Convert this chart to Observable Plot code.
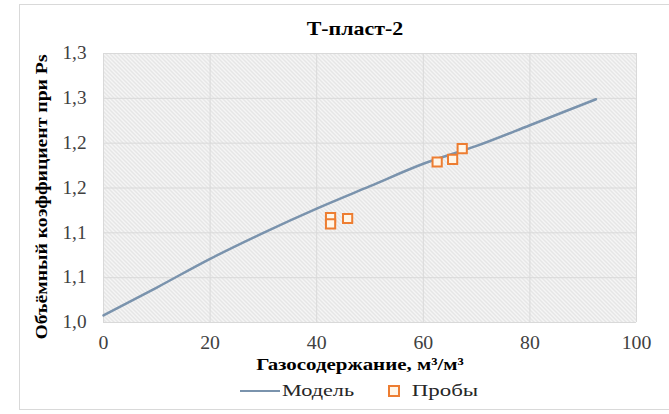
<!DOCTYPE html>
<html><head><meta charset="utf-8">
<script src="https://cdn.jsdelivr.net/npm/d3@7"></script>
<script src="https://cdn.jsdelivr.net/npm/@observablehq/plot@0.6"></script>
<style>
html,body{margin:0;padding:0;background:#fff;}
#chart{position:relative;width:669px;height:414px;overflow:hidden;color:#000;}
#frame{position:absolute;left:19px;top:4px;width:680px;height:406px;border:1px solid #d9d9d9;box-sizing:border-box;}
#plot{position:absolute;left:0;top:0;}
.t{position:absolute;white-space:nowrap;line-height:1;}
#title{font-weight:bold;font-size:19px;}
#xtitle{font-weight:bold;font-size:17px;}
#ytitle{font-weight:bold;font-size:17px;}
.lg{font-size:17px;color:#262626;}
#lgline{position:absolute;left:240px;top:390px;width:40px;height:0;border-top:2.5px solid #7a93ad;}
#lgsq{position:absolute;left:388px;top:385px;width:8px;height:8px;border:2px solid #ed7d31;background:#fff6e8;}
</style></head><body>
<div id="chart">
  <div id="frame"></div>
  <div id="plot"></div>
  <div class="t" id="title">Т-пласт-2</div>
  <div class="t" id="xtitle">Газосодержание, м³/м³</div>
  <div class="t" id="ytitle">Объёмный коэффициент при Ps</div>
  <div id="lgline"></div>
  <div class="t lg" id="lg1">Модель</div>
  <div id="lgsq"></div>
  <div class="t lg" id="lg2">Пробы</div>
</div>
<script>
const modelGas = [0, 10, 20, 30, 40, 50, 60, 70, 80, 92.4];
const modelBo  = [1.008, 1.039, 1.071, 1.100, 1.127, 1.152, 1.177, 1.197, 1.220, 1.249];
const sampleGas = [42.6, 42.6, 45.8, 62.6, 65.5, 67.3];
const sampleBo  = [1.117, 1.110, 1.116, 1.179, 1.182, 1.194];
const xTicks = [0, 20, 40, 60, 80, 100];
const yTicks = [1.00, 1.05, 1.10, 1.15, 1.20, 1.25, 1.30];
const yTickLabels = ["1,0", "1,1", "1,1", "1,2", "1,2", "1,3", "1,3"];

// pick an installed serif face (Times-like)
function pickFont(cands) {
  const ctx = document.createElement("canvas").getContext("2d");
  const s = "Газосодержание 1,3 Пробы Wgil";
  for (const base of ["monospace", "sans-serif"]) {
    ctx.font = `20px ${base}`; const w0 = ctx.measureText(s).width;
    for (const f of cands) {
      ctx.font = `20px "${f}", ${base}`;
      if (Math.abs(ctx.measureText(s).width - w0) > 0.5) return f;
    }
  }
  return "serif";
}
const serif = pickFont(["Liberation Serif", "Times New Roman", "Tinos", "DejaVu Serif", "Noto Serif"]);
const fontStack = `"${serif}", serif`;
document.getElementById("chart").style.fontFamily = fontStack;

const model = modelGas.map((x, i) => ({x, y: modelBo[i]}));
const samples = sampleGas.map((x, i) => ({x, y: sampleBo[i]}));

const svg = Plot.plot({
  width: 669,
  height: 414,
  marginLeft: 103,
  marginRight: 33,
  marginTop: 53,
  marginBottom: 92,
  style: {fontFamily: fontStack, fontSize: "18px", color: "#404040", background: "transparent"},
  x: {domain: [0, 100]},
  y: {domain: [1.0, 1.3]},
  marks: [
    Plot.frame({fill: "url(#hatch)", stroke: "none"}),
    Plot.gridX(xTicks, {stroke: "#d9d9d9", strokeOpacity: 1, strokeWidth: 1}),
    Plot.gridY(yTicks, {stroke: "#d9d9d9", strokeOpacity: 1, strokeWidth: 1}),
    Plot.axisX(xTicks, {tickSize: 0, tickPadding: 14, label: null, fontSize: 18, tickFormat: d => String(d)}),
    Plot.axisY(yTicks, {tickSize: 0, tickPadding: 17, label: null, fontSize: 18, tickFormat: (d, i) => yTickLabels[i]}),
    Plot.line(model, {x: "x", y: "y", stroke: "#7a93ad", strokeWidth: 2.5, curve: "monotone-x"}),
    Plot.dot(samples, {x: "x", y: "y", symbol: "square", r: 5.2, stroke: "#ed7d31", strokeWidth: 2, fill: "#fff6e8"})
  ]
});
d3.select(svg).insert("defs", ":first-child").html(
  `<pattern id="hatch" patternUnits="userSpaceOnUse" width="4" height="4">
     <rect width="4" height="4" fill="#f5f5f5"/>
     <path d="M-1,-1 L5,5 M-1,3 L1,5 M3,-1 L5,1" stroke="#d3d3d3" stroke-width="0.9"/>
   </pattern>`);
function widenTicks(label, sx) {
  d3.select(svg).selectAll(`g[aria-label="${label}"] text`).each(function() {
    const t = this.getAttribute("transform") || "";
    this.setAttribute("transform", (t + ` scale(${sx},1)`).trim());
  });
}
widenTicks("x-axis tick label", 1.1);
widenTicks("y-axis tick label", 1.07);
document.getElementById("plot").appendChild(svg);

function place(id, cx, cy, targetW, rot) {
  const el = document.getElementById(id);
  const sx = targetW / el.offsetWidth;
  el.style.left = cx + "px";
  el.style.top = cy + "px";
  el.style.transform = `translate(-50%,-50%)${rot ? " rotate(-90deg)" : ""} scaleX(${sx})`;
}
place("title", 355, 28, 97);
place("xtitle", 360, 364, 208);
place("ytitle", 41, 197, 285, true);
place("lg1", 318, 390, 72);
place("lg2", 445, 390, 66);
</script>
</body></html>
